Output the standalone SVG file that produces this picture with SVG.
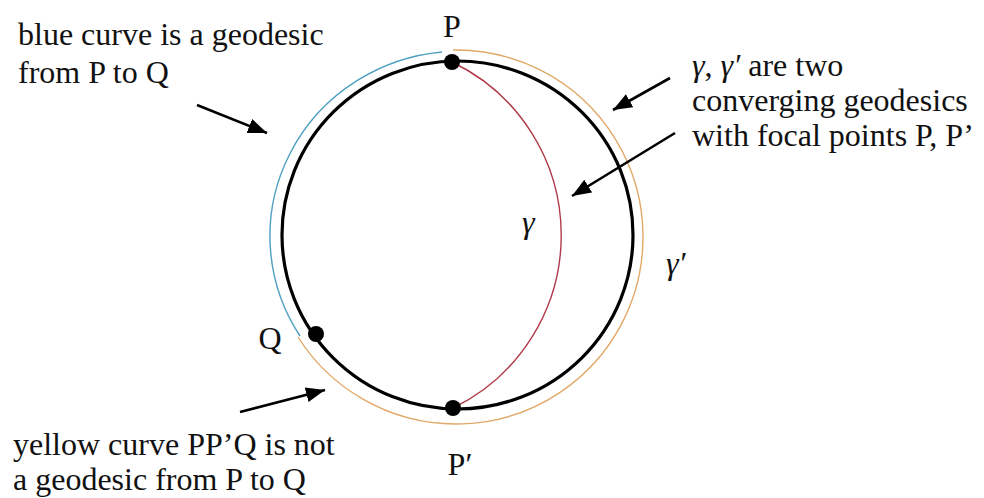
<svg xmlns="http://www.w3.org/2000/svg" width="984" height="498" viewBox="0 0 984 498">
<defs>
<marker id="ah" markerUnits="userSpaceOnUse" markerWidth="22" markerHeight="16" refX="19" refY="7.5" orient="auto">
<path d="M0,0 L19,7.5 L0,15 Z" fill="#000"/>
</marker>
<style>
text{font-family:"Liberation Serif","Times New Roman",serif}
.t{font-size:32px;fill:#111}
.m{font-size:32px;font-style:italic;fill:#111}
.arr{stroke:#000;stroke-width:2.6;fill:none;marker-end:url(#ah)}
.dot{fill:#000}
</style>
</defs>
<rect width="984" height="498" fill="#fff"/>
<g id="curves">
<path id="blue" d="M442,52 A190,185 0 0 0 300,336" fill="none" stroke="#4f9fc0" stroke-width="1.4"/>
<path id="yellow" d="M453,50 A187,187 0 1 1 298,337" fill="none" stroke="#e2a868" stroke-width="1.4"/>
<ellipse id="sphere" cx="457.5" cy="235" rx="175.5" ry="174" fill="none" stroke="#000" stroke-width="3.2"/>
<path id="gamma" d="M452,62 A192,192 0 0 1 453,408" fill="none" stroke="#b03a4a" stroke-width="1.4"/>
</g>
<g id="P"><circle class="dot" cx="452" cy="62" r="8"/><text class="t" x="452" y="37" text-anchor="middle">P</text></g>
<g id="Q"><circle class="dot" cx="316" cy="334" r="8"/><text class="t" x="270" y="349" text-anchor="middle">Q</text></g>
<g id="Pprime"><circle class="dot" cx="453" cy="408" r="8"/><text class="t" x="460" y="475" text-anchor="middle">P′</text></g>
<g id="gamma-labels">
<text class="m" x="522" y="233">γ</text>
<text class="m" x="666" y="274">γ′</text>
</g>
<g id="note-blue">
<text class="t"><tspan x="18" y="45">blue curve is a geodesic</tspan><tspan x="18" y="83">from P to Q</tspan></text>
</g>
<g id="note-yellow">
<text class="t"><tspan x="13" y="455">yellow curve PP’Q is not</tspan><tspan x="13" y="490">a geodesic from P to Q</tspan></text>
</g>
<g id="note-gamma">
<text class="t"><tspan x="692" y="76"><tspan font-style="italic">γ</tspan>, <tspan font-style="italic">γ′</tspan> are two</tspan><tspan x="692" y="111">converging geodesics</tspan><tspan x="692" y="146">with focal points P, P’</tspan></text>
</g>
<g id="connectors">
<line class="arr" x1="197" y1="105" x2="267" y2="133"/>
<line class="arr" x1="240" y1="412" x2="325" y2="390"/>
<line class="arr" x1="670" y1="78" x2="613" y2="110"/>
<line class="arr" x1="675" y1="133" x2="572" y2="196"/>
</g>
</svg>
